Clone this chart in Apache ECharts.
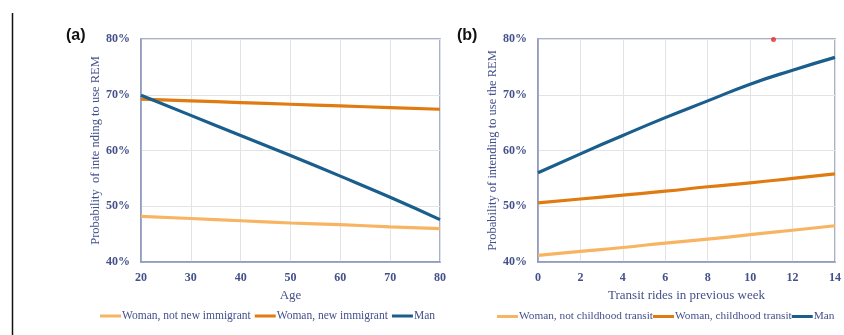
<!DOCTYPE html>
<html>
<head>
<meta charset="utf-8">
<script src="https://cdn.jsdelivr.net/npm/echarts@6/dist/echarts.min.js"></script>
<style>
  html, body { margin: 0; padding: 0; background: #fff; }
  #chart { width: 844px; height: 335px; }
</style>
</head>
<body>
<div id="chart"></div>
<script>
// Panel (a): predicted probability by age
const ageTicks = [20, 30, 40, 50, 60, 70, 80];
const womanNotNewImmigrant = [48.2, 47.8, 47.4, 47.0, 46.7, 46.3, 46.0];
const womanNewImmigrant = [69.2, 68.9, 68.6, 68.3, 68.0, 67.7, 67.4];
const manByAge = [69.9, 66.3, 62.7, 59.1, 55.4, 51.6, 47.6];

// Panel (b): predicted probability by transit rides in the previous week
const rideTicks = [0, 2, 4, 6, 8, 10, 12, 14];
const womanNotChildhoodTransit = [41.2, 41.9, 42.6, 43.4, 44.1, 44.9, 45.7, 46.5];
const womanChildhoodTransit = [50.6, 51.3, 52.0, 52.7, 53.5, 54.2, 55.0, 55.8];
const manByRides = [56.0, 59.4, 62.7, 65.9, 68.9, 71.9, 74.4, 76.7];

// Stray marker sitting near the top edge of panel (b)
const strayMarker = [[11.1, 79.9]];

const LIGHT = '#F7B564';
const ORANGE = '#E07B12';
const BLUE = '#195E8C';
const TEXT = '#44508A';
const FRAME = '#8C97BF';
const GRID = '#E3E3E3';
const FONT = 'Liberation Serif';

function pairs(xs, ys) { return xs.map((x, i) => [x, ys[i]]); }

function xAxisFor(gridIndex, min, max, interval, name) {
  return {
    gridIndex, type: 'value', min, max, interval,
    name, nameLocation: 'middle', nameGap: 27,
    nameTextStyle: { color: TEXT, fontFamily: FONT, fontSize: 13 },
    axisLine: { show: true, lineStyle: { color: FRAME, width: 1.5 } },
    axisTick: { show: false },
    axisLabel: { color: TEXT, fontFamily: FONT, fontSize: 12, fontWeight: 'bold', margin: 10 },
    splitLine: { show: true, lineStyle: { color: GRID, width: 1 } }
  };
}

function yAxisFor(gridIndex, name) {
  return {
    gridIndex, type: 'value', min: 40, max: 80, interval: 10,
    name, nameLocation: 'middle', nameGap: 36,
    nameTextStyle: { color: TEXT, fontFamily: FONT, fontSize: 12.5 },
    axisLine: { show: true, lineStyle: { color: FRAME, width: 1.5 } },
    axisTick: { show: false },
    axisLabel: { color: TEXT, fontFamily: FONT, fontSize: 12, fontWeight: 'bold', margin: 11,
      formatter: v => v + '%' },
    splitLine: { show: true, lineStyle: { color: GRID, width: 1 } }
  };
}

function lineSeries(name, data, color, axisIndex) {
  return {
    type: 'line', name, data, xAxisIndex: axisIndex, yAxisIndex: axisIndex,
    smooth: true, showSymbol: false, symbol: 'none',
    lineStyle: { color, width: 3.2 }, itemStyle: { color },
    z: 3
  };
}

function legendAt(left, gap, fontSize, names, tag) {
  return {
    left, bottom: 13, padding: 0, itemGap: gap, orient: 'horizontal',
    width: 844 - left,
    icon: 'rect', itemWidth: 21, itemHeight: 3,
    textStyle: { color: TEXT, fontFamily: FONT, fontSize, padding: [0, 0, 0, -4] },
    data: names,
    formatter: n => n.replace(tag, '')
  };
}

const chart = echarts.init(document.getElementById('chart'), null, { renderer: 'canvas' });
chart.setOption({
  animation: false,
  backgroundColor: '#fff',
  grid: [
    { left: 141, right: 404, top: 39, bottom: 73, show: true, borderColor: FRAME, borderWidth: 1.5 },
    { left: 538, right: 7, top: 39, bottom: 73, show: true, borderColor: FRAME, borderWidth: 1.5 }
  ],
  xAxis: [
    xAxisFor(0, 20, 80, 10, 'Age'),
    xAxisFor(1, 0, 14, 2, 'Transit rides in previous week')
  ],
  yAxis: [
    yAxisFor(0, 'Probability  of inte nding to use REM'),
    yAxisFor(1, 'Probability of intending to use the REM')
  ],
  legend: [
    legendAt(100, 4, 11.5, ['Woman, not new immigrant', 'Woman, new immigrant', 'Man (a)'], ' (a)'),
    legendAt(497, 0, 11.3, ['Woman, not childhood transit', 'Woman, childhood transit', 'Man (b)'], ' (b)')
  ],
  series: [
    lineSeries('Woman, not new immigrant', pairs(ageTicks, womanNotNewImmigrant), LIGHT, 0),
    lineSeries('Woman, new immigrant', pairs(ageTicks, womanNewImmigrant), ORANGE, 0),
    lineSeries('Man (a)', pairs(ageTicks, manByAge), BLUE, 0),
    lineSeries('Woman, not childhood transit', pairs(rideTicks, womanNotChildhoodTransit), LIGHT, 1),
    lineSeries('Woman, childhood transit', pairs(rideTicks, womanChildhoodTransit), ORANGE, 1),
    lineSeries('Man (b)', pairs(rideTicks, manByRides), BLUE, 1),
    {
      type: 'scatter', data: strayMarker, xAxisIndex: 1, yAxisIndex: 1,
      symbolSize: 5, itemStyle: { color: '#E8262B' }, silent: true, z: 4
    }
  ],
  graphic: [
    { type: 'text', left: 66, top: 28,
      style: { text: '(a)', font: 'bold 16px "Liberation Sans", Arial', fill: '#111' } },
    { type: 'text', left: 457, top: 28,
      style: { text: '(b)', font: 'bold 16px "Liberation Sans", Arial', fill: '#111' } },
    { type: 'line', shape: { x1: 12.5, y1: 13, x2: 12.5, y2: 335 },
      style: { stroke: '#111', lineWidth: 1.5 } }
  ]
});
</script>
</body>
</html>
